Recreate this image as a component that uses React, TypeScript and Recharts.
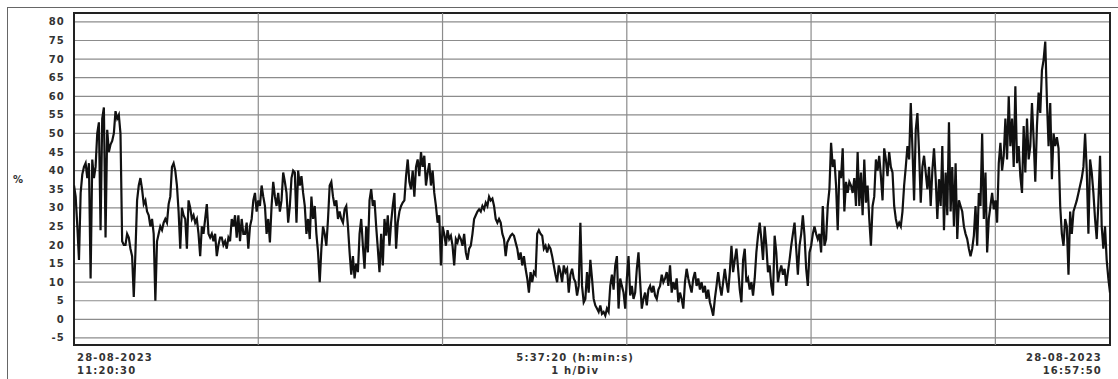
import { LineChart, Line, XAxis, YAxis, CartesianGrid, ReferenceLine, ReferenceArea } from 'recharts'

// duration of the record: 5:37:20 (h:min:s), in hours
const T_END = 5 + 37 / 60 + 20 / 3600
const Y_MIN = -6.9
const Y_MAX = 82.4

const yTicks = [-5, 0, 5, 10, 15, 20, 25, 30, 35, 40, 45, 50, 55, 60, 65, 70, 75, 80]
const hourLines = [1, 2, 3, 4, 5]
const xTickValues = [0, 2.72, T_END]
const xLabelTop = ['28-08-2023', '5:37:20 (h:min:s)', '28-08-2023']
const xLabelBottom = ['11:20:30', '1 h/Div', '16:57:50']

// load %, left to right
const seg1 = [36, 33, 25, 16, 34, 39, 41, 42, 38, 42, 11, 43, 38, 41, 50, 53, 24, 54, 57, 22, 51, 45, 47, 48, 50, 56, 54, 55, 50, 21, 20, 20, 23, 22, 19, 17, 6, 18, 32, 36, 38, 35, 31, 32, 29, 28, 25, 27, 23, 5, 21, 23, 25, 24, 26, 27, 26, 31, 33, 41, 42, 40, 36, 29, 19, 30, 28, 27, 19, 32, 30, 27, 28, 26, 27, 23, 17, 25, 23, 27, 31, 23, 22, 23, 21, 23, 17, 20, 22, 22, 20, 21, 19, 22, 21, 27, 25, 28, 22, 28, 21, 27, 23]
const seg2 = [23, 26, 19, 25, 27, 32, 34, 29, 32, 30.5, 36, 33, 30.5, 23, 27, 20.7, 30.5, 37, 33, 30.5, 34, 29, 32, 39.5, 37, 34, 26, 30.5, 38, 40, 39.5, 26, 40, 36, 38.5, 34, 30.5, 23, 27, 21.6, 33, 27, 30.5, 23, 18, 10, 19, 25, 23, 19.8, 27, 36, 37, 33, 30.5, 32, 27, 29, 27, 26, 29.6, 30.5, 25, 18, 12, 17, 11, 15, 12.7, 23, 27, 19.8, 13.6, 25, 18, 32, 35, 30.5, 32, 25, 19, 12.7, 23, 14.5, 27, 22.5, 28, 19.8, 26, 30.5, 34, 19, 26, 29, 30.5, 31.4, 32, 38.5, 43, 37, 35, 40, 33, 41]
const seg3 = [43, 38.5, 45, 41, 44, 36, 39.5, 42, 36, 40, 34, 30.5, 26, 28, 14.5, 25, 23, 19.8, 24, 21.6, 22.5, 19.8, 14.5, 21.6, 20.7, 22.5, 21.6, 19.8, 23, 18, 16, 19, 19.8, 23, 27, 28, 29, 29.6, 29, 30.5, 29.6, 31.4, 30.5, 33, 32, 32.5, 30.5, 27, 26, 27, 26, 23, 21.6, 17, 20.7, 21.6, 22.5, 23, 22.5, 20.7, 19, 16, 18, 14.5, 17, 13.6, 11, 7.2, 12.7, 10, 12.7, 12, 23, 24, 23, 22.5, 19, 19.8, 18, 19.8, 19, 17, 14.5, 12, 10, 14.5, 12.7, 10, 14.5, 12.7, 13.6, 7.2, 12, 13.6, 11, 10, 6.4, 9, 26, 9, 4.6, 5.5, 12.7, 7.2]
const seg4 = [16, 11, 5.5, 3.75, 2.9, 2, 3.75, 1.5, 2, 1, 2.9, 2, 9, 12, 8, 14.5, 17, 2.9, 11, 9, 7.2, 2.9, 11, 17, 6.4, 9, 5.5, 7.2, 13.6, 18, 10, 2.9, 5.5, 7.2, 3.75, 8, 9, 7.2, 9, 6.4, 5.5, 8, 9, 12, 10, 11, 12.7, 9, 14.5, 7.2, 10, 8, 11, 4.6, 7.2, 5.5, 2.9, 10, 13.6, 11, 9, 7.2, 11, 12.7, 9, 11, 8, 10, 7.2, 9, 5.5, 8, 4.6, 2.9, 1, 5.5, 9, 12.7, 9, 6.4, 10, 13.6, 10, 7.2, 12.7, 19.8, 12.7, 16, 19, 13.6, 8, 4.6, 16, 19, 10, 11, 8, 10, 6.4, 11, 18, 22.5, 26, 21.6, 16]
const seg5 = [25, 19.8, 12.7, 14.5, 9, 6.4, 22.5, 18, 10, 12.7, 14.5, 12, 13.6, 9, 12.7, 16, 19.8, 23, 26, 19, 12, 19.8, 23, 28, 22.5, 13.6, 9, 18, 19.8, 23, 25, 23, 21.6, 23, 18, 30.5, 19.8, 21.6, 30.5, 35, 47.5, 41, 43, 36, 24, 40, 38, 46, 29, 37, 34, 37, 36, 34, 38, 30.5, 45, 30.5, 39.5, 28, 43, 31.4, 36, 27, 19.8, 30.5, 33, 43, 40, 44, 38.5, 32, 46, 43, 38.5, 45, 41, 39.5, 30.5, 27, 25, 26, 25, 29, 36, 41, 46.6, 43, 58.2, 46, 32, 51, 55.5, 45, 31.4, 41, 44, 39.5, 35, 41, 30.5, 40, 46, 38, 27]
const seg6 = [37.7, 30.5, 46.6, 24, 39.5, 28, 53, 29, 41, 25, 42, 21.6, 32, 30.5, 29, 25, 23, 21.6, 19, 17, 19, 22.5, 30.5, 19.8, 34, 30.5, 50, 27, 39.5, 18, 27, 30.5, 34, 29.6, 32, 26, 42, 47.5, 40, 44, 54, 43, 60, 46.6, 54, 41, 62.7, 42, 46.6, 38.5, 34, 52, 39.5, 54, 43, 46.6, 58.2, 48.4, 37, 52, 61, 55.5, 67, 69.8, 74.7, 59, 46.6, 58.2, 37.7, 50, 46.6, 49, 46, 30.5, 23, 19.8, 27, 25, 12, 29, 23, 29, 30.5, 32, 34, 36, 38, 41, 50, 40, 23, 43, 39.5, 34, 27, 21.6, 31.4, 44, 25, 19, 25, 16, 11, 7.2]

const loadValues = [...seg1, ...seg2, ...seg3, ...seg4, ...seg5, ...seg6]
// samples are evenly spaced over the record
const data = loadValues.map((v, i) => ({ t: (i / (loadValues.length - 1)) * T_END, v }))

const textStyle = { fontFamily: 'DejaVu Sans, sans-serif', fontSize: 10, fontWeight: 700, fill: '#333', letterSpacing: 1.2 }

function TimeTick(props: any) {
  const { x, y, index } = props
  const anchor = index === 0 ? 'start' : index === 2 ? 'end' : 'middle'
  const dx = index === 0 ? 3 : index === 2 ? -8 : 0
  return (
    <g>
      <text x={x + dx} y={y + 14} textAnchor={anchor} style={textStyle}>{xLabelTop[index]}</text>
      <text x={x + dx} y={y + 27} textAnchor={anchor} style={textStyle}>{xLabelBottom[index]}</text>
    </g>
  )
}

export default function App() {
  return (
    <div style={{ position: 'absolute', left: 0, top: 0, width: 1118, height: 379, background: '#fff' }}>
      <div style={{ position: 'absolute', left: 7, top: 7, right: 0, bottom: 0, borderLeft: '1.5px solid #666', borderTop: '1.5px solid #666' }} />
      <LineChart width={1118} height={379} data={data} margin={{ top: 13, right: 8, bottom: 0, left: 0 }}>
        <CartesianGrid vertical={false} stroke="#8c8c8c" strokeWidth={1.2} />
        <XAxis
          type="number"
          dataKey="t"
          domain={[0, T_END]}
          ticks={xTickValues}
          interval={0}
          height={34}
          axisLine={false}
          tickLine={false}
          tickSize={0}
          tick={<TimeTick />}
          allowDataOverflow
        />
        <YAxis
          type="number"
          domain={[Y_MIN, Y_MAX]}
          ticks={yTicks}
          interval={0}
          width={74}
          axisLine={false}
          tickLine={false}
          tickSize={0}
          tickMargin={9}
          tick={textStyle}
          allowDataOverflow
          label={{ value: '%', position: 'insideLeft', offset: 13, style: textStyle }}
        />
        {hourLines.map((h) => (
          <ReferenceLine key={h} x={h} stroke="#8c8c8c" strokeWidth={1.2} />
        ))}
        <Line type="linear" dataKey="v" stroke="#111" strokeWidth={2.2} strokeLinejoin="miter" dot={false} isAnimationActive={false} />
        <ReferenceArea x1={0} x2={T_END} y1={Y_MIN} y2={Y_MAX} fill="none" fillOpacity={0} stroke="#222" strokeWidth={2} ifOverflow="visible" />
      </LineChart>
    </div>
  )
}
